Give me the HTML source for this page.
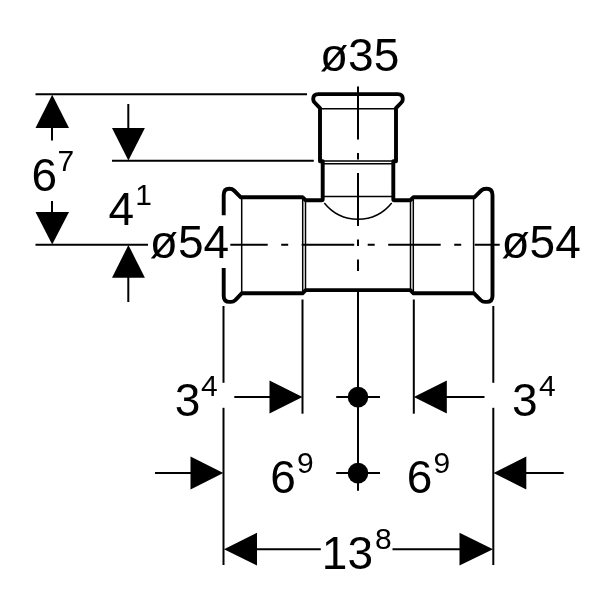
<!DOCTYPE html>
<html>
<head>
<meta charset="utf-8">
<title>Drawing</title>
<style>
html,body{margin:0;padding:0;background:#fff;}
body{width:600px;height:600px;overflow:hidden;}
svg{display:block;will-change:transform;}
text{font-family:"Liberation Sans",sans-serif;fill:#000;}
.t{font-size:46px;}
.s{font-size:30px;}
.thin{stroke:#000;stroke-width:2;fill:none;}
.thick{stroke:#000;stroke-width:3.9;fill:none;stroke-linejoin:round;stroke-linecap:butt;}
.fine{stroke:#000;stroke-width:1.5;fill:none;}
.ar{fill:#000;stroke:none;}
</style>
</head>
<body>
<svg width="600" height="600" viewBox="0 0 600 600">
<rect width="600" height="600" fill="#fff"/>

<!-- left vertical dimension lines -->
<g class="thin">
<line x1="35.5" y1="94.3" x2="307" y2="94.3"/>
<line x1="112" y1="160.8" x2="313.8" y2="160.8"/>
<line x1="35.5" y1="244.8" x2="148" y2="244.8"/>
<line x1="52" y1="127" x2="52" y2="140.5"/>
<line x1="52" y1="201" x2="52" y2="213"/>
<line x1="128.3" y1="104" x2="128.3" y2="129"/>
<line x1="128.3" y1="276" x2="128.3" y2="302"/>
</g>
<g class="ar">
<polygon points="52.2,94.8 35.5,128 69,128"/>
<polygon points="52.2,244.6 35.5,212 69,212"/>
<polygon points="128.4,160.6 112,128 144.9,128"/>
<polygon points="128.4,245 112,277.8 144.9,277.8"/>
</g>

<!-- centre lines -->
<g class="thin">
<line x1="358" y1="86.5" x2="358" y2="271" stroke-dasharray="53 13.5 6.5 13.5"/>
<line x1="215.2" y1="244.7" x2="499.7" y2="244.7" stroke-dasharray="52.5 13.5 7 13.5"/>
</g>
<rect x="200" y="214.3" width="30.3" height="53.7" fill="#fff"/>

<!-- fitting -->
<g class="thick">
<path d="M223.7,215.3 L223.7,195 Q223.7,188.8 229.3,188.8 Q232.3,188.8 234,190.5 L240.8,197.3 L302.5,197.3 L305.7,200.2 L321.7,200.2 Q322.7,200.2 322.7,199.2 L322.7,161.3 L320,161.3 L320,108.2 L314.6,102.5 Q313.2,100.9 313.2,99 Q313.2,94.1 318.2,94.1 L397.8,94.1 Q402.8,94.1 402.8,99 Q402.8,100.9 401.4,102.5 L396,108.2 L396,161.3 L393.3,161.3 L393.3,199.2 Q393.3,200.2 394.3,200.2 L410.3,200.2 L413.5,197.3 L474.3,197.3 L481.2,190.5 Q483,188.8 486.6,188.8 Q492.5,188.8 492.5,195 L492.5,295.9 Q492.5,301.9 486.6,301.9 L485,301.9 Q482.6,301.9 480.7,300.1 L474,293.3 L413.5,293.3 L410.3,290.1 L305.7,290.1 L302.5,293.3 L241.7,293.3 L235.3,300.1 Q233.4,301.9 231,301.9 L229.6,301.9 Q223.7,301.9 223.7,295.9 L223.7,268"/>
</g>
<g class="fine">
<line x1="241.7" y1="197.3" x2="241.7" y2="293.3"/>
<line x1="302.7" y1="197.3" x2="302.7" y2="293.3"/>
<line x1="305.5" y1="200.4" x2="305.5" y2="290"/>
<line x1="410.5" y1="200.4" x2="410.5" y2="290"/>
<line x1="413.3" y1="197.3" x2="413.3" y2="293.3"/>
<line x1="473.6" y1="197.3" x2="473.6" y2="293.3"/>
<line x1="320" y1="108.8" x2="396" y2="108.8"/>
<line x1="320" y1="161" x2="396" y2="161"/>
<line x1="322.7" y1="163.8" x2="393.3" y2="163.8"/>
<line x1="322.7" y1="196.4" x2="393.3" y2="196.4"/>
<path d="M324.3,203 A43.2,43.2 0 0 0 391.7,203"/>
</g>

<!-- bottom dimension lines -->
<g class="thin">
<line x1="223.5" y1="306" x2="223.5" y2="382.8"/>
<line x1="223.5" y1="407.8" x2="223.5" y2="565"/>
<line x1="493.3" y1="306" x2="493.3" y2="382.8"/>
<line x1="493.3" y1="407.8" x2="493.3" y2="565"/>
<line x1="302.5" y1="299.5" x2="302.5" y2="413.7"/>
<line x1="413.8" y1="299.5" x2="413.8" y2="413.7"/>
<line x1="358" y1="290" x2="358" y2="490.7"/>
<line x1="336.2" y1="397" x2="380" y2="397"/>
<line x1="336.2" y1="473" x2="380" y2="473"/>
<line x1="234.3" y1="397" x2="270" y2="397"/>
<line x1="446" y1="397" x2="484.5" y2="397"/>
<line x1="155" y1="473" x2="191" y2="473"/>
<line x1="526" y1="473" x2="563.7" y2="473"/>
<line x1="256" y1="549.3" x2="320.8" y2="549.3"/>
<line x1="392.5" y1="549.3" x2="460" y2="549.3"/>
</g>
<g class="ar">
<circle cx="358" cy="397.1" r="10.3"/>
<circle cx="358" cy="473.1" r="10.3"/>
<polygon points="302.5,397 269.5,380.4 269.5,413.4"/>
<polygon points="413.8,397 446.8,380.4 446.8,413.4"/>
<polygon points="223.3,473 190.5,456.4 190.5,489.6"/>
<polygon points="493.5,473 526.3,456.4 526.3,489.6"/>
<polygon points="224,549.3 257,532.7 257,565.6"/>
<polygon points="493,549.3 459.5,532.7 459.5,565.6"/>
</g>

<!-- text -->
<text class="t" x="320" y="70.7">ø35</text>
<text class="t" x="149.8" y="257.5">ø54</text>
<text class="t" x="501.5" y="257.5">ø54</text>
<text class="t" x="31.5" y="190.5">6</text><text class="s" x="57.5" y="171">7</text>
<text class="t" x="108.5" y="224.5">4</text><text class="s" x="135.3" y="204.8">1</text>
<text class="t" x="174.7" y="416.2">3</text><text class="s" x="201" y="396">4</text>
<text class="t" x="512.1" y="416.3">3</text><text class="s" x="539" y="396">4</text>
<text class="t" x="270.2" y="492.8">6</text><text class="s" x="297" y="473">9</text>
<text class="t" x="406.8" y="492.8">6</text><text class="s" x="433.5" y="473">9</text>
<text class="t" x="321.8" y="569.2">13</text><text class="s" x="375" y="549">8</text>
</svg>
</body>
</html>
